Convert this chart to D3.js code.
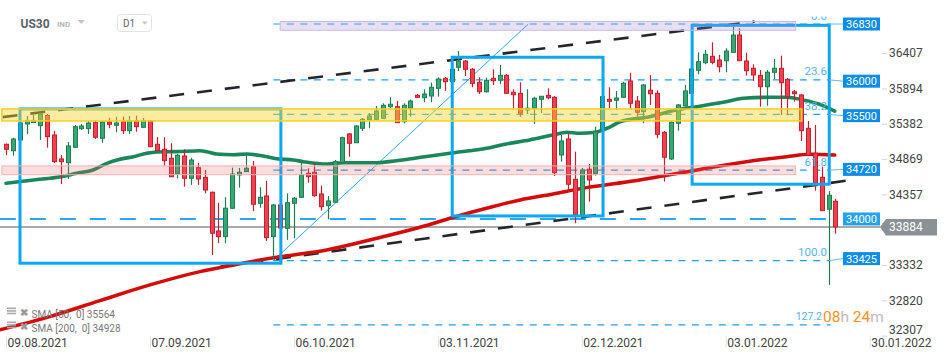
<!DOCTYPE html>
<html><head><meta charset="utf-8">
<script src="https://cdn.jsdelivr.net/npm/d3@7"></script>
<style>
html,body{margin:0;padding:0;background:#fff;}
svg{display:block;font-family:Roboto,"Noto Sans",Arial,sans-serif;}
</style>
</head><body>
<svg id="chart" width="950" height="361"></svg>
<script>
// ---------- DATA ----------
const opens  = [35084,34991,35147,35379,35401,35354,35502,35219,34871,34817,35041,35311,35311,35398,35171,35408,35360,35412,35282,35427,35331,35422,35084,35012,34881,34653,34914,34591,34745,34605,34388,33826,33744,34156,34639,34687,34759,34228,34334,33744,34203,33865,34228,34315,34663,34678,34363,34193,34243,34817,35234,35107,35316,35437,35447,35461,35630,35630,35412,35607,35795,35760,35785,35897,36042,35993,36202,36293,36173,35984,35847,36042,36013,36085,35839,35824,35582,35607,35737,35795,35766,34929,35161,34576,34058,34722,34663,35292,35737,35723,35766,36003,35712,35557,35868,35824,35258,34871,35389,35644,35824,36158,36268,36361,36307,36297,36419,36670,36293,36187,36085,35920,36129,36187,36027,35847,35800,35316,34954,34605,34141,34257];
const highs  = [35096,35180,35422,35495,35509,35538,35524,35277,34929,35118,35364,35379,35422,35422,35422,35470,35485,35485,35495,35499,35466,35437,35190,35186,35099,34943,35012,34890,34817,34711,34399,34233,34315,34745,34740,34929,34842,34460,34552,34218,34233,34373,34320,34832,34736,34817,34484,34334,34856,35195,35248,35364,35466,35538,35640,35679,35766,35712,35679,35734,35814,35882,35978,36056,36061,36191,36438,36307,36191,36056,36051,36173,36235,36104,35882,35984,35882,35775,35785,35897,35785,35219,35244,34977,34740,34798,35340,35800,35911,35858,35993,36123,35785,35959,36090,35868,35277,35422,35669,35945,36206,36419,36453,36564,36380,36477,36791,36767,36413,36245,36162,36162,36322,36370,36046,35872,35814,35422,35364,34759,34407,34291];
const lows   = [34929,34919,35132,35234,35393,35147,35035,34813,34508,34581,35031,35292,35234,35161,35107,35316,35258,35234,35234,35267,35321,35045,34987,34774,34610,34591,34469,34494,34494,34373,33478,33652,33648,34145,34455,34682,34116,34164,33681,33420,33812,33696,33720,34305,34527,34324,34121,33996,34233,34813,34904,35103,35277,35316,35437,35451,35607,35393,35389,35485,35756,35694,35694,35775,35862,35988,36148,36075,35911,35814,35833,35945,35955,35814,35607,35485,35524,35379,35538,35737,34624,34832,34396,33938,34044,34251,34629,35277,35607,35582,35756,35592,35485,35389,35654,35171,34542,34856,35282,35630,35814,36100,36245,36245,36129,36129,36409,36293,36080,36003,35630,35644,36032,35509,35509,35702,35132,34914,34411,34116,33043,33787];
const closes = [35012,35161,35393,35430,35430,35524,35195,34832,34832,35060,35340,35350,35393,35186,35408,35374,35393,35282,35427,35340,35427,35049,34991,34846,34614,34925,34591,34856,34581,34421,33793,33744,34156,34653,34678,34736,34214,34315,33729,34203,33870,34237,34301,34639,34614,34338,34179,34262,34832,35180,35099,35350,35447,35495,35567,35650,35665,35398,35650,35712,35766,35814,35911,36032,35993,36173,36293,36173,35969,35847,36013,36007,36085,35824,35804,35534,35607,35752,35781,35760,34672,35132,34504,34058,34711,34566,35267,35775,35708,35756,35969,35679,35549,35945,35818,35229,34896,35403,35655,35858,36177,36283,36390,36274,36210,36438,36670,36297,36152,36090,35920,36129,36187,35978,35775,35818,35282,34929,34518,34121,34344,33884];

const dateTicks     = ["09.08.2021","07.09.2021","06.10.2021","03.11.2021","02.12.2021","03.01.2022","30.01.2022"];
const dateTickIndex = [0,21,42,63,84,105,126];
const priceTicks    = [36407,35894,35382,34869,34357,33332,32820,32307];

const sma50Idx = [0,4,8,10.3,12.7,14.7,16.6,18.6,20.5,22,24.9,28.3,29.3,30.7,33.2,35.1,37.5,39.5,41.9,43.4,46.8,49.2,54.1,57,61.1,65.3,70.1,73,76.4,79.8,81.8,83.7,86,88,89.6,93.9,97.8,100.8,104.6,107.6,111.5,113.9,116.3,118.7,120.9];
const sma50Val = [34518,34566,34614,34663,34711,34808,34867,34904,34954,34972,34977,34991,34977,34943,34933,34943,34914,34875,34856,34832,34798,34817,34817,34846,34904,34962,35026,35089,35147,35219,35259,35244,35260,35330,35412,35485,35582,35630,35694,35752,35766,35766,35727,35665,35564];
const sma200Idx = [-1,6.4,13.7,21,28.3,33.2,39.5,46.8,54.1,60.4,65.3,70.1,75,79.8,84.7,91.8,100.8,108,113.9,117.3,120.9];
const sma200Val = [32390,32583,32815,33043,33236,33333,33445,33551,33720,33880,34025,34155,34276,34363,34455,34556,34711,34832,34904,34939,34928];

const legendNames  = ["SMA [50,  0] 35564","SMA [200,  0] 34928"];
const levelLabels  = [36830,36000,35500,34720,34000,33425];
const fibLevels    = [0,23.6,38.2,61.8,100,127.2];
const fibLabels    = ["0.0","23.6","38.2","61.8","100.0","127.2"];
const fibHigh = 36830, fibLow = 33396;
const lastPrice = 33884;

// drawing objects in data coordinates (bar index, price)
const upperTrend = [[-0.5,35478],[109.2,36865]];
const lowerTrend = [[31.3,33308],[123.4,34566]];
const fibAnchor  = [[39,fibLow],[76.2,fibHigh]];
const boxes = [[2.04,40.1,35597,33358],[65.1,87.1,36347,34044],[100.1,120.1,36811,34505]];
const bandYellow = [-0.6,116.1,35423,35597];
const bandPink   = [-0.6,115.2,34643,34770];
const bandPurple = [40,115.2,36739,36866];

// ---------- SCALES ----------
const x = d3.scaleLinear().domain([0,121]).range([6,835.4]);
const y = d3.scaleLinear().domain([33425,36830]).range([258.6,24]);

const svg = d3.select("#chart");
const defs = svg.append("defs");
defs.append("clipPath").attr("id","topclip").append("rect").attr("x",0).attr("y",16.5).attr("width",950).attr("height",346);

const g = svg.append("g");

// ---------- level lines ----------
const fibPrice = f => fibHigh - (fibHigh-fibLow)*f/100;
g.selectAll("line.fib").data(fibLevels).join("line")
  .attr("x1",x(39)).attr("x2",x(120.3))
  .attr("y1",d=>y(fibPrice(d))).attr("y2",d=>y(fibPrice(d)))
  .attr("stroke","#1f9ef0").attr("stroke-width",1.2).attr("stroke-dasharray","7,6.5");

g.append("line").attr("x1",x(-0.9)).attr("x2",x(120.3)).attr("y1",y(34000)).attr("y2",y(34000))
  .attr("stroke","#2aa7f2").attr("stroke-width",2).attr("stroke-dasharray","16,14");

g.append("line").attr("x1",0).attr("x2",880).attr("y1",y(lastPrice)).attr("y2",y(lastPrice))
  .attr("stroke","#8e8e8e").attr("stroke-width",1.5);

// ---------- trend lines ----------
const ln = d3.line().x(d=>x(d[0])).y(d=>y(d[1]));
[upperTrend,lowerTrend].forEach(t=>{
  g.append("path").attr("d",ln(t)).attr("fill","none").attr("stroke","#23272b")
   .attr("stroke-width",2.6).attr("stroke-dasharray","15,13");
});
g.append("path").attr("d",ln(fibAnchor)).attr("fill","none").attr("stroke","#2ba6f2").attr("stroke-width",1);

// ---------- SMA lines ----------
const smaLine = d3.line().x(d=>x(d[0])).y(d=>y(d[1])).curve(d3.curveMonotoneX);
g.append("path").attr("d",smaLine(sma200Idx.map((d,i)=>[d,sma200Val[i]])))
  .attr("fill","none").attr("stroke","#d30b0b").attr("stroke-width",3.5).attr("stroke-linecap","round");
g.append("path").attr("d",smaLine(sma50Idx.map((d,i)=>[d,sma50Val[i]])))
  .attr("fill","none").attr("stroke","#1a875b").attr("stroke-width",3.6).attr("stroke-linecap","round");

// ---------- candles ----------
const candles = opens.map((o,i)=>({i,o,h:highs[i],l:lows[i],c:closes[i],up:closes[i]>=o}));
const cg = g.append("g");
cg.selectAll("line").data(candles).join("line")
  .attr("x1",d=>Math.round(x(d.i))+0.5).attr("x2",d=>Math.round(x(d.i))+0.5)
  .attr("y1",d=>y(d.h)).attr("y2",d=>y(d.l))
  .attr("stroke",d=>d.up?"#1f7d52":"#c21f31").attr("stroke-width",1.2);
cg.selectAll("rect").data(candles).join("rect")
  .attr("x",d=>Math.round(x(d.i))-1.5).attr("width",4)
  .attr("y",d=>y(Math.max(d.o,d.c)))
  .attr("height",d=>Math.max(1,Math.abs(y(d.o)-y(d.c))))
  .attr("fill",d=>d.up?"#35a874":"#f3404f")
  .attr("stroke",d=>d.up?"#1f7d52":"#c21f31").attr("stroke-width",1);

// ---------- blue boxes ----------
g.selectAll("rect.box").data(boxes).join("rect")
  .attr("x",d=>x(d[0])).attr("y",d=>y(d[2]))
  .attr("width",d=>x(d[1])-x(d[0])).attr("height",d=>y(d[3])-y(d[2]))
  .attr("fill","none").attr("stroke","#0ba7f1").attr("stroke-width",3);

// ---------- bands (translucent, on top) ----------
function band(b,fill,stroke,sw){
  g.append("rect").attr("x",x(b[0])).attr("width",x(b[1])-x(b[0]))
   .attr("y",y(b[3])).attr("height",y(b[2])-y(b[3]))
   .attr("fill",fill).attr("stroke",stroke).attr("stroke-width",sw);
}
band(bandYellow,"rgba(248,212,48,0.45)","#f4cf25",1.5);
band(bandPink,"rgba(240,100,100,0.22)","#f3b1b1",1);
band(bandPurple,"rgba(160,130,210,0.25)","#c9b9e4",1);

// ---------- fib labels ----------
g.append("g").attr("clip-path","url(#topclip)")
  .selectAll("text").data(fibLevels).join("text")
  .attr("x",d=>d===127.2?822:827).attr("y",d=>y(fibPrice(d))-4.5).attr("text-anchor","end")
  .attr("font-size",d=>d===127.2?10.5:11.5).attr("fill","#55b3f3").text((d,i)=>fibLabels[i]);

// ---------- right level labels ----------
const lab = g.append("g");
levelLabels.forEach(v=>{
  if(v!==34000){
    const near = fibLevels.map(fibPrice).reduce((a,b)=>Math.abs(b-v)<Math.abs(a-v)?b:a);
    lab.append("line").attr("x1",829).attr("x2",843).attr("y1",y(near)).attr("y2",y(v))
      .attr("stroke","#6bb6ea").attr("stroke-width",1);
  }
  lab.append("rect").attr("x",843).attr("y",y(v)-6.5).attr("width",37).attr("height",13)
    .attr("fill",v===34000?"#23a2ef":"#0c8de9");
  lab.append("text").attr("x",861.5).attr("y",y(v)+4).attr("text-anchor","middle")
    .attr("font-size",11).attr("fill","#fff").text(v);
});

// ---------- y axis ----------
const yAxis = g.append("g").attr("transform","translate(882,0)")
  .call(d3.axisRight(y).tickValues(priceTicks).tickSize(5).tickPadding(2).tickFormat(d3.format("d")));
yAxis.select(".domain").remove();
yAxis.selectAll(".tick line").attr("stroke","#d6d6d6");
yAxis.selectAll(".tick text").attr("font-size",12).attr("fill","#444").attr("font-family","Roboto,sans-serif");
yAxis.selectAll(".tick").filter(d=>d===32307).select("text").attr("y",-5.5);

// last price tag
const ly = y(lastPrice);
g.append("path").attr("d",`M880,${ly} L886,${ly-8} L937,${ly-8} L937,${ly+8.5} L886,${ly+8.5} Z`).attr("fill","#8a9297");
g.append("text").attr("x",889).attr("y",ly+4.3).attr("font-size",12).attr("fill","#fff").text(lastPrice);

// ---------- x axis ----------
const xAxis = g.append("g").attr("transform","translate(0,336)")
  .call(d3.axisBottom(x).tickValues(dateTickIndex).tickSize(12).tickFormat((d,i)=>dateTicks[i]));
xAxis.select(".domain").remove();
xAxis.selectAll(".tick line").attr("stroke","#e2e2e2");
xAxis.selectAll(".tick text").attr("text-anchor","start").attr("x",1).attr("y",2.5)
  .attr("font-size",12).attr("fill","#444").attr("font-family","Roboto,sans-serif");

// ---------- legend ----------
legendNames.forEach((t,k)=>{
  const yy = 314 + k*14;
  [0,2.6,5.2].forEach(o=>g.append("rect").attr("x",7).attr("y",yy-6.5+o).attr("width",9).attr("height",1.6).attr("fill","#a9a9a9"));
  g.append("text").attr("x",19.5).attr("y",yy+1.5).attr("font-size",10).attr("font-weight","bold").attr("fill","#9a9a9a").text("\u2716");
  g.append("text").attr("x",31.5).attr("y",yy+3.5).attr("font-size",10).attr("fill","#777").attr("xml:space","preserve").text(t);
});

// ---------- timer ----------
const tm = g.append("text").attr("x",823).attr("y",321.5).attr("font-size",15.5);
tm.append("tspan").attr("fill","#f7941d").text("08");
tm.append("tspan").attr("fill","#bdbdbd").text("h ");
tm.append("tspan").attr("fill","#f7941d").text("24");
tm.append("tspan").attr("fill","#bdbdbd").text("m");

// ---------- header ----------
g.append("text").attr("x",20.5).attr("y",27.5).attr("font-size",12).attr("font-weight","bold").attr("fill","#5a5f66").text("US30");
g.append("text").attr("x",57).attr("y",26.8).attr("font-size",8).attr("font-weight","bold").attr("fill","#b3b7bc").text("IND");
g.append("path").attr("d","M77.5,20 L85,20 L81.25,24 Z").attr("fill","#c4c4c4");
g.append("rect").attr("x",117.5).attr("y",14.5).attr("width",34).attr("height",17).attr("rx",3)
  .attr("fill","#fff").attr("stroke","#e2e2e2");
g.append("text").attr("x",123).attr("y",26.5).attr("font-size",10).attr("fill","#666").text("D1");
g.append("path").attr("d","M141.8,21.5 L147.8,21.5 L144.8,24.8 Z").attr("fill","#c8c8c8");
</script>
</body></html>
